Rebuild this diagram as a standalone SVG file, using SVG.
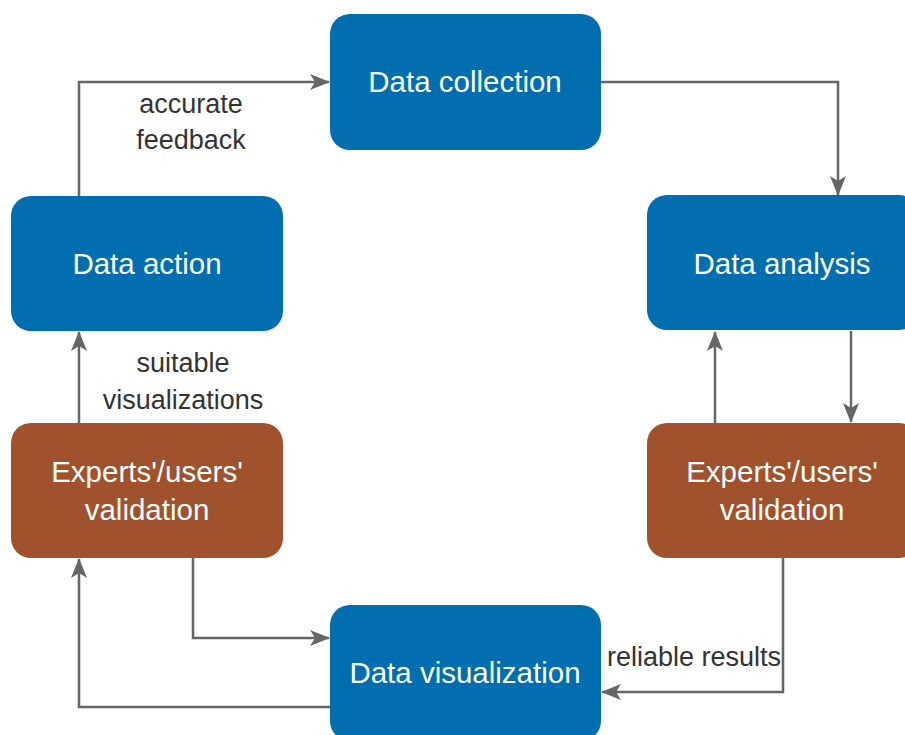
<svg xmlns="http://www.w3.org/2000/svg" width="905" height="735" viewBox="0 0 905 735">
<style>
.blue{fill:#006EAF;}
.brown{fill:#A0522D;}
.nt{font-family:"Liberation Sans",Arial,sans-serif;font-size:29.5px;fill:#ffffff;text-anchor:middle;}
.lb{font-family:"Liberation Sans",Arial,sans-serif;font-size:27px;fill:#333333;text-anchor:middle;}
.c{fill:none;stroke:#666666;stroke-width:2.5;marker-end:url(#ah);}
</style>
<defs>
<marker id="ah" viewBox="0 0 20 20" refX="19" refY="10" markerWidth="20" markerHeight="20" markerUnits="userSpaceOnUse" orient="auto">
<path d="M0,2 L20,10 L0,18 L5,10 Z" fill="#666666"/>
</marker>
</defs>
<rect width="905" height="735" fill="#ffffff"/>
<g id="connectors">
<path class="c" d="M79,196 V82 H329"/>
<path class="c" d="M601,82 H838 V195"/>
<path class="c" d="M851,331 V422"/>
<path class="c" d="M715,423 V332"/>
<path class="c" d="M783,558 V692 H602"/>
<path class="c" d="M193,558 V638 H329"/>
<path class="c" d="M330,707 H79 V559"/>
<path class="c" d="M79,423 V332"/>
</g>
<g id="labels">
<text class="lb" x="191" y="113">accurate</text>
<text class="lb" x="191" y="149">feedback</text>
<text class="lb" x="183" y="372">suitable</text>
<text class="lb" x="183" y="409">visualizations</text>
<text class="lb" x="694" y="666">reliable results</text>
</g>
<g id="data-collection">
<rect class="blue" x="330" y="14" width="271" height="136" rx="20"/>
<text class="nt" x="465" y="92">Data collection</text>
</g>
<g id="data-action">
<rect class="blue" x="11" y="196" width="272" height="135" rx="20"/>
<text class="nt" x="147" y="274">Data action</text>
</g>
<g id="data-analysis">
<rect class="blue" x="647" y="195" width="272" height="135" rx="20"/>
<text class="nt" x="782" y="274">Data analysis</text>
</g>
<g id="validation-left">
<rect class="brown" x="11" y="423" width="272" height="135" rx="20"/>
<text class="nt" x="147" y="482">Experts'/users'</text>
<text class="nt" x="147" y="520">validation</text>
</g>
<g id="validation-right">
<rect class="brown" x="647" y="423" width="272" height="135" rx="20"/>
<text class="nt" x="782" y="482">Experts'/users'</text>
<text class="nt" x="782" y="520">validation</text>
</g>
<g id="data-visualization">
<rect class="blue" x="330" y="605" width="271" height="136" rx="20"/>
<text class="nt" x="465" y="683">Data visualization</text>
</g>
</svg>
